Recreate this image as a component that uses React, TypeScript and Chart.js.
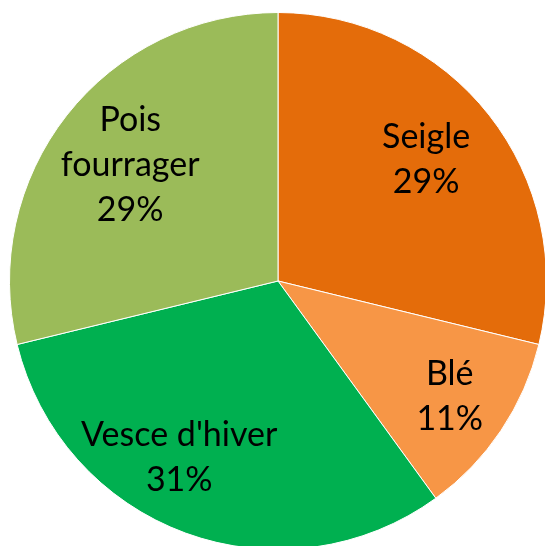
import React, { useEffect, useRef } from "react";
import { Chart, registerables } from "chart.js";

Chart.register(...registerables);

const categories = ["Seigle", "Blé", "Vesce d'hiver", "Pois fourrager"];
const labelLines = [["Seigle"], ["Blé"], ["Vesce d'hiver"], ["Pois", "fourrager"]];
const values = [28.8, 11.2, 31.2, 28.8];
const percentLabels = ["29%", "11%", "31%", "29%"];
const colors = ["#E46C0A", "#F79646", "#00B050", "#9BBB59"];

const labelPlugin = {
  id: "sliceLabels",
  afterDatasetsDraw(chart: any) {
    const ctx = chart.ctx;
    const meta = chart.getDatasetMeta(0);
    const fracs = [0.73, 0.77, 0.7, 0.7];
    const dx = [-6, 0, -34, 0];
    ctx.save();
    ctx.fillStyle = "#000";
    ctx.font = "34px Lato";
    ctx.textAlign = "center";
    ctx.textBaseline = "middle";
    const lh = 45;
    meta.data.forEach((arc: any, i: number) => {
      const p = arc.getProps(["x", "y", "startAngle", "endAngle", "outerRadius"], true);
      const mid = (p.startAngle + p.endAngle) / 2;
      const x = p.x + Math.cos(mid) * p.outerRadius * fracs[i] + dx[i];
      const y = p.y + Math.sin(mid) * p.outerRadius * fracs[i];
      const lines = [...labelLines[i], percentLabels[i]];
      const top = y - ((lines.length - 1) * lh) / 2;
      lines.forEach((t, k) => ctx.fillText(t, x, top + k * lh));
    });
    ctx.restore();
  },
};

export default function App() {
  const ref = useRef<HTMLCanvasElement>(null);
  useEffect(() => {
    document.body.style.margin = "0";
    document.body.style.overflow = "hidden";
    const chart = new Chart(ref.current!, {
      type: "pie",
      data: {
        labels: categories,
        datasets: [
          {
            data: values,
            backgroundColor: colors,
            borderColor: "#ffffff",
            borderWidth: 1,
          },
        ],
      },
      options: {
        responsive: false,
        animation: false,
        layout: { padding: 0 },
        plugins: { legend: { display: false }, tooltip: { enabled: false } },
      },
      plugins: [labelPlugin],
    });
    return () => chart.destroy();
  }, []);
  return (
    <div style={{ position: "fixed", left: 0, top: 0, width: 545, height: 546, overflow: "hidden", background: "#fff" }}>
      <canvas ref={ref} width={538} height={538} style={{ position: "absolute", left: 9, top: 12, width: 538, height: 538 }} />
    </div>
  );
}
